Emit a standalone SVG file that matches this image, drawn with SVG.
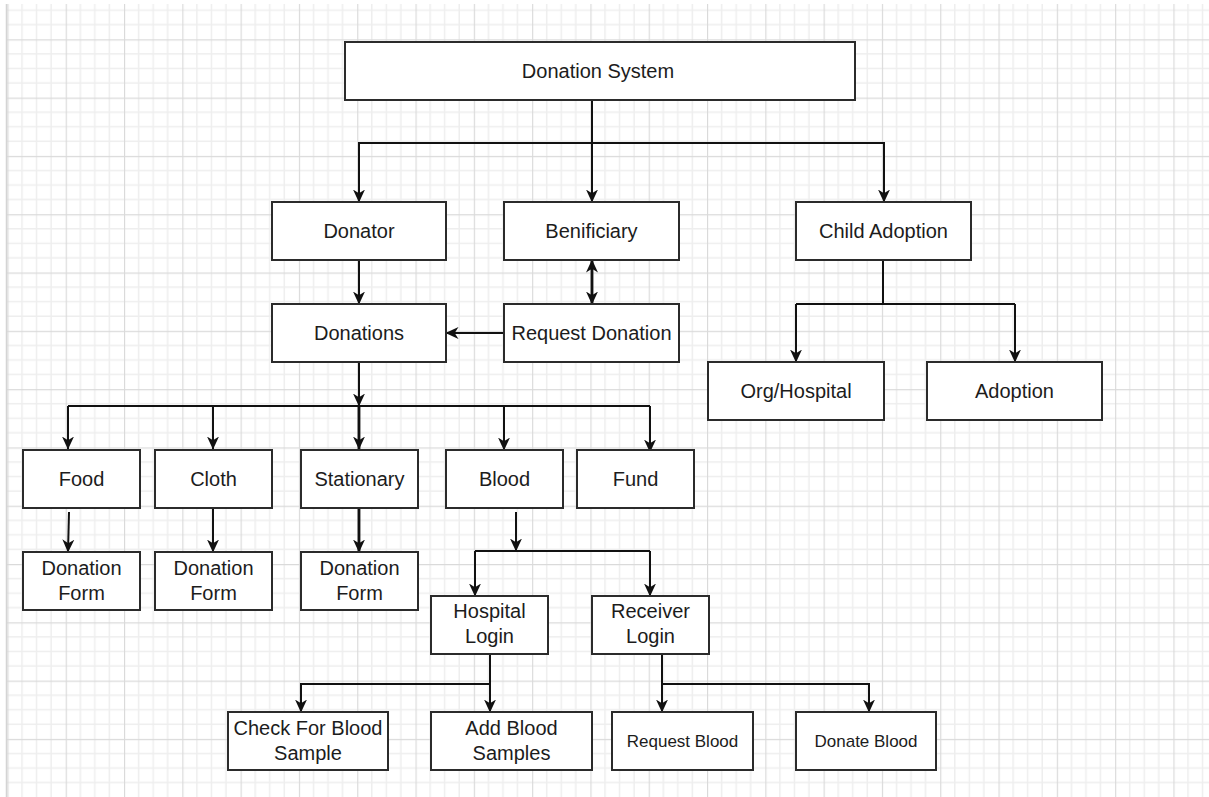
<svg xmlns="http://www.w3.org/2000/svg" width="1209" height="797" viewBox="0 0 1209 797">
<defs>
<pattern id="grid" patternUnits="userSpaceOnUse" x="7.4" y="-19" width="58.3" height="58.3">
<path d="M14.575,0 V58.3 M29.15,0 V58.3 M43.725,0 V58.3 M0,14.575 H58.3 M0,29.15 H58.3 M0,43.725 H58.3" stroke="#eeeeee" stroke-width="1.5" fill="none"/>
<path d="M0.5,0 V58.3 M0,0.5 H58.3" stroke="#dadada" stroke-width="1.3" fill="none"/>
</pattern>
<marker id="arr" markerUnits="userSpaceOnUse" markerWidth="13" markerHeight="13" viewBox="0 0 13 13" refX="12.5" refY="6.5" orient="auto-start-reverse">
<path d="M0,0.5 L13,6.5 L0,12.5 L3.8,6.5 Z" fill="#111"/>
</marker>
<style>
.box{fill:#fff;stroke:#2b2b2b;stroke-width:2}
.t{font-family:"Liberation Sans",Arial,sans-serif;font-size:20px;fill:#1c1c1c;text-anchor:middle}
.s{font-size:17px}
.c{fill:none;stroke:#111;stroke-width:2}
.a{marker-end:url(#arr)}
.thick{stroke-width:2.8}
</style>
</defs>
<rect x="0" y="0" width="1209" height="797" fill="#fff"/>
<rect x="6" y="4" width="1203" height="793" fill="url(#grid)"/>
<line x1="6.5" y1="4" x2="6.5" y2="797" stroke="#d4d4d4" stroke-width="1.5"/>

<g id="connectors">
<path class="c a" d="M592,100 V202"/>
<path class="c a" d="M592,143 H359 V202"/>
<path class="c a" d="M592,143 H884 V202"/>
<path class="c a" d="M359,260 V304"/>
<path class="c a thick" d="M592,260 V304" marker-start="url(#arr)"/>
<path class="c a" d="M504,333 H446"/>
<path class="c a" d="M359,362 V406"/>
<path class="c" d="M68,406 H650"/>
<path class="c a" d="M68,406 V449"/>
<path class="c a" d="M213,406 V449"/>
<path class="c a thick" d="M359,406 V449"/>
<path class="c a" d="M504,406 V450"/>
<path class="c a" d="M650,406 V452"/>
<path class="c a" d="M69,512 L68,552"/>
<path class="c a" d="M213,508 V552"/>
<path class="c a thick" d="M359,508 V552"/>
<path class="c a" d="M516,512 V551"/>
<path class="c" d="M475,551 H650"/>
<path class="c a" d="M475,551 V596"/>
<path class="c a" d="M650,551 V596"/>
<path class="c a" d="M490,654 V712"/>
<path class="c a" d="M490,684 H301 V712"/>
<path class="c a" d="M662,654 V712"/>
<path class="c a" d="M662,684 H869 V712"/>
<path class="c" d="M883,260 V304"/>
<path class="c" d="M796,304 H1015"/>
<path class="c a" d="M796,304 V362"/>
<path class="c a" d="M1015,304 V362"/>
</g>

<g id="n-system"><rect class="box" x="345" y="42" width="510" height="58"/><text class="t" x="598" y="78">Donation System</text></g>
<g id="n-donator"><rect class="box" x="272" y="202" width="174" height="58"/><text class="t" x="359" y="238">Donator</text></g>
<g id="n-benificiary"><rect class="box" x="504" y="202" width="175" height="58"/><text class="t" x="591.5" y="238">Benificiary</text></g>
<g id="n-child"><rect class="box" x="796" y="202" width="175" height="58"/><text class="t" x="883.5" y="238">Child Adoption</text></g>
<g id="n-donations"><rect class="box" x="272" y="304" width="174" height="58"/><text class="t" x="359" y="340">Donations</text></g>
<g id="n-request"><rect class="box" x="504" y="304" width="175" height="58"/><text class="t" x="591.5" y="340">Request Donation</text></g>
<g id="n-org"><rect class="box" x="708" y="362" width="176" height="58"/><text class="t" x="796" y="398">Org/Hospital</text></g>
<g id="n-adoption"><rect class="box" x="927" y="362" width="175" height="58"/><text class="t" x="1014.5" y="398">Adoption</text></g>
<g id="n-food"><rect class="box" x="23" y="450" width="117" height="58"/><text class="t" x="81.5" y="486">Food</text></g>
<g id="n-cloth"><rect class="box" x="155" y="450" width="117" height="58"/><text class="t" x="213.5" y="486">Cloth</text></g>
<g id="n-stationary"><rect class="box" x="301" y="450" width="117" height="58"/><text class="t" x="359.5" y="486">Stationary</text></g>
<g id="n-blood"><rect class="box" x="446" y="450" width="117" height="58"/><text class="t" x="504.5" y="486">Blood</text></g>
<g id="n-fund"><rect class="box" x="577" y="450" width="117" height="58"/><text class="t" x="635.5" y="486">Fund</text></g>
<g id="n-form1"><rect class="box" x="23" y="552" width="117" height="58"/><text class="t" x="81.5" y="575">Donation</text><text class="t" x="81.5" y="600">Form</text></g>
<g id="n-form2"><rect class="box" x="155" y="552" width="117" height="58"/><text class="t" x="213.5" y="575">Donation</text><text class="t" x="213.5" y="600">Form</text></g>
<g id="n-form3"><rect class="box" x="301" y="552" width="117" height="58"/><text class="t" x="359.5" y="575">Donation</text><text class="t" x="359.5" y="600">Form</text></g>
<g id="n-hospital"><rect class="box" x="431" y="596" width="117" height="58"/><text class="t" x="489.5" y="618">Hospital</text><text class="t" x="489.5" y="643">Login</text></g>
<g id="n-receiver"><rect class="box" x="592" y="596" width="117" height="58"/><text class="t" x="650.5" y="618">Receiver</text><text class="t" x="650.5" y="643">Login</text></g>
<g id="n-check"><rect class="box" x="228" y="712" width="160" height="58"/><text class="t" x="308" y="735">Check For Blood</text><text class="t" x="308" y="760">Sample</text></g>
<g id="n-add"><rect class="box" x="431" y="712" width="161" height="58"/><text class="t" x="511.5" y="735">Add Blood</text><text class="t" x="511.5" y="760">Samples</text></g>
<g id="n-reqblood"><rect class="box" x="612" y="712" width="141" height="58"/><text class="t s" x="682.5" y="747">Request Blood</text></g>
<g id="n-donateblood"><rect class="box" x="796" y="712" width="140" height="58"/><text class="t s" x="866" y="747">Donate Blood</text></g>
</svg>
